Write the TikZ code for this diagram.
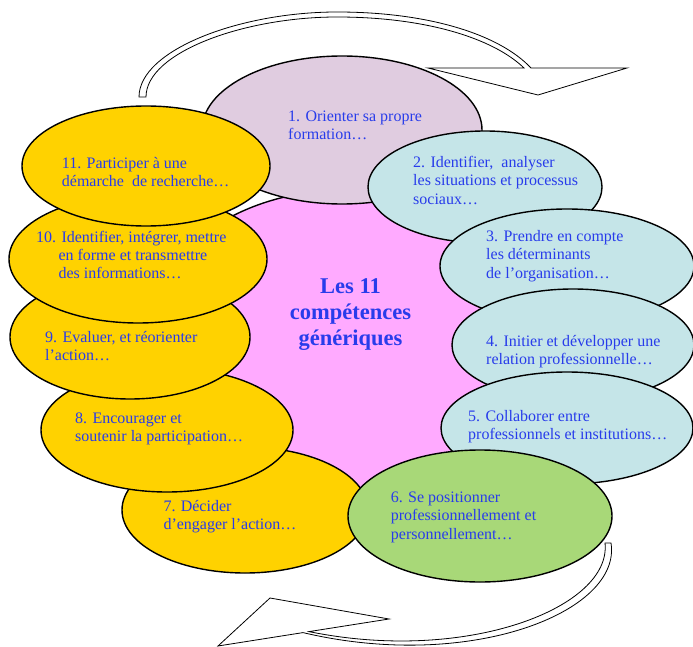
\documentclass[tikz,border=0pt]{standalone}
\usepackage{fontspec}
\setmainfont{Liberation Serif}
\usetikzlibrary{shapes.geometric}
\definecolor{lilac}{RGB}{224,204,224}
\definecolor{pinkc}{RGB}{255,170,255}
\definecolor{bluec}{RGB}{197,229,232}
\definecolor{greenc}{RGB}{168,216,120}
\definecolor{yellowc}{RGB}{255,210,0}
\definecolor{txtblue}{RGB}{40,60,235}
\begin{document}
\begin{tikzpicture}[x=1pt,y=-1pt,
  ell/.style={ellipse, draw=black, line width=1.4pt, inner sep=0pt, outer sep=0pt},
  txt/.style={anchor=base west, inner sep=0pt, text=txtblue, font=\fontsize{16}{18.2}\selectfont},
  bigarrow/.style={draw=black, fill=white, line width=0.8pt, line join=miter}]
\useasboundingbox (0,0) rectangle (693,647);
% circular arrows
\draw[bigarrow] (139,97) .. controls (139,50) and (240,12) .. (337,12)
   .. controls (430,12) and (500,35) .. (531,68)
   -- (627,68) -- (538,95) -- (428,68) -- (524,68)
   .. controls (493,38) and (425,17) .. (337,17)
   .. controls (245,17) and (146,52) .. (146,97) -- cycle;
\draw[bigarrow] (611,543) .. controls (622,612) and (470,672) .. (303,632.6)
   -- (218,646) -- (270,598) -- (389,619) -- (309,631.6)
   .. controls (468,664) and (612,607) .. (605,543) -- cycle;
% ellipses
\node[ell, fill=pinkc, minimum width=400pt, minimum height=300pt] (ec) at (345,340) {};
\node[ell, fill=lilac, minimum width=280pt, minimum height=148pt] (e1) at (342,130) {};
\node[ell, fill=bluec, minimum width=234pt, minimum height=112pt] (e2) at (485,187) {};
\node[ell, fill=bluec, minimum width=254pt, minimum height=114pt] (e3) at (567,266) {};
\node[ell, fill=bluec, minimum width=242pt, minimum height=112pt] (e4) at (573,345) {};
\node[ell, fill=bluec, minimum width=252pt, minimum height=112pt] (e5) at (567,428) {};
\node[ell, fill=yellowc, minimum width=246pt, minimum height=126pt] (e7) at (245,510) {};
\node[ell, fill=yellowc, minimum width=252pt, minimum height=124pt] (e8) at (167,430) {};
\node[ell, fill=yellowc, minimum width=240pt, minimum height=124pt] (e9) at (130,337) {};
\node[ell, fill=yellowc, minimum width=258pt, minimum height=128pt] (e10) at (138,259) {};
\node[ell, fill=yellowc, minimum width=248pt, minimum height=120pt] (e11) at (146,166) {};
\node[ell, fill=greenc, minimum width=264pt, minimum height=132pt] (e6) at (480,516) {};
% texts
\node[anchor=base, inner sep=0pt, text=txtblue, font=\bfseries\fontsize{22.5}{26.3}\selectfont] (tc) at (350.5,293.3)
  {\begin{tabular}[t]{@{}c@{}}Les 11\\compétences\\génériques\end{tabular}};
\node[txt] (t1) at (288,121.7) {\begin{tabular}[t]{@{}l@{}}1. Orienter sa propre\\formation…\end{tabular}};
\node[txt] (t2) at (413,167.7) {\begin{tabular}[t]{@{}l@{}}2. Identifier,~ analyser\\les situations et processus\\sociaux…\end{tabular}};
\node[txt] (t3) at (486,241.7) {\begin{tabular}[t]{@{}l@{}}3. Prendre en compte\\les déterminants\\de l’organisation…\end{tabular}};
\node[txt] (t4) at (486,346.7) {\begin{tabular}[t]{@{}l@{}}4. Initier et développer une\\relation professionnelle…\end{tabular}};
\node[txt] (t5) at (468,421.7) {\begin{tabular}[t]{@{}l@{}}5. Collaborer entre\\professionnels et institutions…\end{tabular}};
\node[txt] (t6) at (390.7,502.7) {\begin{tabular}[t]{@{}l@{}}6. Se positionner\\professionnellement et\\personnellement…\end{tabular}};
\node[txt] (t7) at (163.3,511.7) {\begin{tabular}[t]{@{}l@{}}7. Décider\\d’engager l’action…\end{tabular}};
\node[txt] (t8) at (75,423.3) {\begin{tabular}[t]{@{}l@{}}8. Encourager et\\soutenir la participation…\end{tabular}};
\node[txt] (t9) at (45,342.3) {\begin{tabular}[t]{@{}l@{}}9. Evaluer, et réorienter\\l’action…\end{tabular}};
\node[txt] (t10) at (36,242.3) {\begin{tabular}[t]{@{}l@{}}10. Identifier, intégrer, mettre\\\hspace*{22.3pt}en forme et transmettre\\\hspace*{22.3pt}des informations…\end{tabular}};
\node[txt] (t11) at (61.7,168.3) {\begin{tabular}[t]{@{}l@{}}11. Participer à une\\démarche~ de recherche…\end{tabular}};
\end{tikzpicture}
\end{document}
